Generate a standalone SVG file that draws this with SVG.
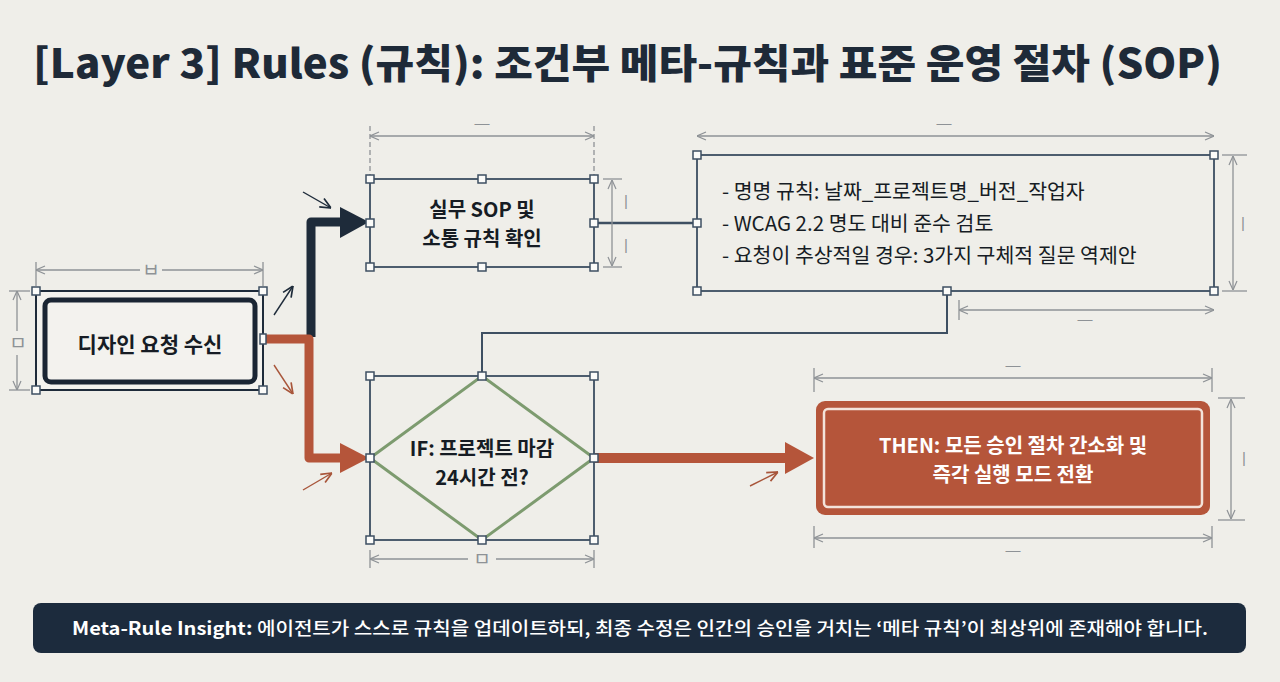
<svg xmlns="http://www.w3.org/2000/svg" width="1280" height="682" viewBox="0 0 1280 682">
<defs>
<style>
.dim{stroke:#8e9296;stroke-width:1.3;fill:none}
.dimt{font-family:"Liberation Sans",sans-serif;font-size:15px;fill:#8e9296;text-anchor:middle}
.dimk{font-family:"Noto Sans CJK KR",sans-serif;font-size:19px;fill:#8e9296;text-anchor:middle}
.sel{fill:none;stroke:#4d5d6e;stroke-width:2}
.h{fill:#fbfbf9;stroke:#3e4f62;stroke-width:1.5}
.lbl{font-family:"Noto Sans CJK KR","Noto Sans",sans-serif;font-weight:700;fill:#161c24;text-anchor:middle}
.body{font-family:"Noto Sans CJK KR","Noto Sans",sans-serif;font-size:20.5px;fill:#161c24}
</style>
<marker id="da" viewBox="0 0 10 10" refX="10" refY="5" markerWidth="10" markerHeight="10" markerUnits="userSpaceOnUse" orient="auto-start-reverse">
<path d="M1,1 L10,5 L1,9" fill="none" stroke="#8e9296" stroke-width="1.2"/>
</marker>
<marker id="sd" viewBox="0 0 10 10" refX="10" refY="5" markerWidth="12" markerHeight="12" markerUnits="userSpaceOnUse" orient="auto">
<path d="M1,1 L10,5 L1,9" fill="none" stroke="#1e2b3a" stroke-width="1.4"/>
</marker>
<marker id="so" viewBox="0 0 10 10" refX="10" refY="5" markerWidth="12" markerHeight="12" markerUnits="userSpaceOnUse" orient="auto">
<path d="M1,1 L10,5 L1,9" fill="none" stroke="#a8553a" stroke-width="1.4"/>
</marker>
</defs>
<rect width="1280" height="682" fill="#efeee9"/>
<text x="33" y="78" font-family="Noto Sans CJK KR,Noto Sans,sans-serif" font-weight="900" font-size="40" fill="#1e2a38" textLength="1189" lengthAdjust="spacingAndGlyphs">[Layer 3] Rules (규칙): 조건부 메타-규칙과 표준 운영 절차 (SOP)</text>

<g id="connectors">
<path d="M311,337 V222 H342" fill="none" stroke="#1e2b3a" stroke-width="9" stroke-linejoin="round"/>
<polygon points="340,207 369,222 340,238" fill="#1e2b3a"/>
<path d="M263,339 H309 V458 H342" fill="none" stroke="#b5553a" stroke-width="9" stroke-linejoin="round"/>
<polygon points="340,443 369,458 340,473" fill="#b5553a"/>
<path d="M594,458 H788" fill="none" stroke="#b5553a" stroke-width="10"/>
<polygon points="785,442 814,458 785,474" fill="#b5553a"/>
<path d="M594,223 H697" fill="none" stroke="#3e4f62" stroke-width="2.5"/>
<path d="M947,291 V333 H482 V376" fill="none" stroke="#3e4f62" stroke-width="2"/>
<line x1="274" y1="315" x2="293" y2="286" stroke="#1e2b3a" stroke-width="1.4" marker-end="url(#sd)"/>
<line x1="274" y1="365" x2="293" y2="394" stroke="#a8553a" stroke-width="1.4" marker-end="url(#so)"/>
<line x1="303" y1="192" x2="331" y2="208" stroke="#1e2b3a" stroke-width="1.4" marker-end="url(#sd)"/>
<line x1="303" y1="490" x2="332" y2="473" stroke="#a8553a" stroke-width="1.4" marker-end="url(#so)"/>
<line x1="750" y1="486" x2="778" y2="472" stroke="#a8553a" stroke-width="1.4" marker-end="url(#so)"/>
</g>

<g id="start">
<line class="dim" x1="36" y1="270" x2="140" y2="270" marker-start="url(#da)"/>
<line class="dim" x1="162" y1="270" x2="263" y2="270" marker-end="url(#da)"/>
<line class="dim" x1="36" y1="262" x2="36" y2="286"/>
<line class="dim" x1="263" y1="262" x2="263" y2="286"/>
<text class="dimk" x="151" y="277">ㅂ</text>
<line class="dim" x1="17" y1="291" x2="17" y2="331" marker-start="url(#da)"/>
<line class="dim" x1="17" y1="355" x2="17" y2="390" marker-end="url(#da)"/>
<line class="dim" x1="9" y1="291" x2="30" y2="291"/>
<line class="dim" x1="9" y1="390" x2="30" y2="390"/>
<text class="dimk" x="18" y="350">ㅁ</text>
<rect x="36" y="291" width="227" height="99" fill="#f3f2ee" stroke="#1e2b3a" stroke-width="2"/>
<rect x="45" y="300" width="210" height="82" rx="6" fill="#f3f2ee" stroke="#1a2533" stroke-width="5"/>
<rect class="h" x="32" y="287" width="8" height="8"/><rect class="h" x="259" y="287" width="8" height="8"/>
<rect class="h" x="32" y="386" width="8" height="8"/><rect class="h" x="259" y="386" width="8" height="8"/>
<rect class="h" x="260" y="334" width="6" height="10"/>
<text class="lbl" x="150" y="352" font-size="21">디자인 요청 수신</text>
</g>

<g id="sop">
<line class="dim" x1="370" y1="136" x2="594" y2="136" marker-start="url(#da)" marker-end="url(#da)"/>
<line class="dim" x1="370" y1="126" x2="370" y2="178" stroke-dasharray="5,3"/>
<line class="dim" x1="594" y1="126" x2="594" y2="178" stroke-dasharray="5,3"/>
<text class="dimt" x="482" y="128">—</text>
<line class="dim" x1="612" y1="180" x2="612" y2="266" marker-start="url(#da)" marker-end="url(#da)"/>
<line class="dim" x1="603" y1="179" x2="622" y2="179"/>
<line class="dim" x1="603" y1="267" x2="622" y2="267"/>
<text class="dimt" x="626" y="206">|</text>
<text class="dimt" x="626" y="250">|</text>
<rect class="sel" x="370" y="179" width="224" height="88"/>
<rect class="h" x="366" y="175" width="8" height="8"/><rect class="h" x="478" y="175" width="8" height="8"/><rect class="h" x="590" y="175" width="8" height="8"/>
<rect class="h" x="366" y="219" width="8" height="8"/><rect class="h" x="590" y="219" width="8" height="8"/>
<rect class="h" x="366" y="263" width="8" height="8"/><rect class="h" x="478" y="263" width="8" height="8"/><rect class="h" x="590" y="263" width="8" height="8"/>
<text class="lbl" x="482" y="217" font-size="20">실무 SOP 및</text>
<text class="lbl" x="482" y="246" font-size="20">소통 규칙 확인</text>
</g>

<g id="info">
<line class="dim" x1="697" y1="136" x2="1214" y2="136" marker-start="url(#da)" marker-end="url(#da)"/>
<text class="dimt" x="944" y="128">—</text>
<line class="dim" x1="1233" y1="156" x2="1233" y2="290" marker-start="url(#da)" marker-end="url(#da)"/>
<line class="dim" x1="1222" y1="155" x2="1247" y2="155"/>
<line class="dim" x1="1222" y1="291" x2="1247" y2="291"/>
<text class="dimt" x="1243" y="228">|</text>
<line class="dim" x1="959" y1="310" x2="1214" y2="310" marker-start="url(#da)" marker-end="url(#da)"/>
<line class="dim" x1="959" y1="300" x2="959" y2="320"/>
<text class="dimt" x="1085" y="324">—</text>
<rect class="sel" x="697" y="155" width="517" height="136"/>
<rect class="h" x="693" y="151" width="8" height="8"/><rect class="h" x="1210" y="151" width="8" height="8"/>
<rect class="h" x="693" y="219" width="8" height="8"/>
<rect class="h" x="693" y="287" width="8" height="8"/><rect class="h" x="943" y="287" width="8" height="8"/><rect class="h" x="1210" y="287" width="8" height="8"/>
<text class="body" x="722" y="199">- 명명 규칙: 날짜_프로젝트명_버전_작업자</text>
<text class="body" x="722" y="231">- WCAG 2.2 명도 대비 준수 검토</text>
<text class="body" x="722" y="263">- 요청이 추상적일 경우: 3가지 구체적 질문 역제안</text>
</g>

<g id="decision">
<rect class="sel" x="370" y="376" width="224" height="164" stroke-width="1.5" stroke="#6f8194"/>
<polygon points="482,376 594,458 482,540 370,458" fill="none" stroke="#7d9b6f" stroke-width="3"/>
<rect class="h" x="366" y="372" width="8" height="8"/><rect class="h" x="478" y="372" width="8" height="8"/><rect class="h" x="590" y="372" width="8" height="8"/>
<rect class="h" x="366" y="454" width="8" height="8"/><rect class="h" x="590" y="454" width="8" height="8"/>
<rect class="h" x="366" y="536" width="8" height="8"/><rect class="h" x="478" y="536" width="8" height="8"/><rect class="h" x="590" y="536" width="8" height="8"/>
<line class="dim" x1="370" y1="559" x2="468" y2="559" marker-start="url(#da)"/>
<line class="dim" x1="496" y1="559" x2="594" y2="559" marker-end="url(#da)"/>
<line class="dim" x1="370" y1="550" x2="370" y2="568"/>
<line class="dim" x1="594" y1="550" x2="594" y2="568"/>
<text class="dimk" x="482" y="566">ㅁ</text>
<text class="lbl" x="482" y="456" font-size="20">IF: 프로젝트 마감</text>
<text class="lbl" x="482" y="485" font-size="20">24시간 전?</text>
</g>

<g id="then">
<line class="dim" x1="814" y1="378" x2="1212" y2="378" marker-start="url(#da)" marker-end="url(#da)"/>
<line class="dim" x1="814" y1="368" x2="814" y2="392"/>
<line class="dim" x1="1212" y1="368" x2="1212" y2="392"/>
<text class="dimt" x="1013" y="370">—</text>
<line class="dim" x1="814" y1="538" x2="1212" y2="538" marker-start="url(#da)" marker-end="url(#da)"/>
<line class="dim" x1="814" y1="526" x2="814" y2="548"/>
<line class="dim" x1="1212" y1="526" x2="1212" y2="548"/>
<text class="dimt" x="1013" y="555">—</text>
<line class="dim" x1="1231" y1="399" x2="1231" y2="519" marker-start="url(#da)" marker-end="url(#da)"/>
<line class="dim" x1="1218" y1="398" x2="1245" y2="398"/>
<line class="dim" x1="1218" y1="520" x2="1245" y2="520"/>
<text class="dimt" x="1244" y="463">|</text>
<rect x="816" y="401" width="394" height="114" rx="9" fill="#b5553a"/>
<rect x="824" y="409" width="378" height="98" rx="4" fill="none" stroke="#f3e3da" stroke-width="2.5"/>
<text class="lbl" x="1013" y="453" font-size="20" style="fill:#ffffff">THEN: 모든 승인 절차 간소화 및</text>
<text class="lbl" x="1013" y="482" font-size="20" style="fill:#ffffff">즉각 실행 모드 전환</text>
</g>

<g id="insight">
<rect x="33" y="603" width="1213" height="50" rx="8" fill="#1c2b3d"/>
<text x="640" y="635" text-anchor="middle" font-family="Noto Sans CJK KR,Noto Sans,sans-serif" font-size="18" font-weight="500" fill="#ffffff" textLength="1136" lengthAdjust="spacingAndGlyphs"><tspan font-weight="700">Meta-Rule Insight:</tspan> 에이전트가 스스로 규칙을 업데이트하되, 최종 수정은 인간의 승인을 거치는 ‘메타 규칙’이 최상위에 존재해야 합니다.</text>
</g>
</svg>
